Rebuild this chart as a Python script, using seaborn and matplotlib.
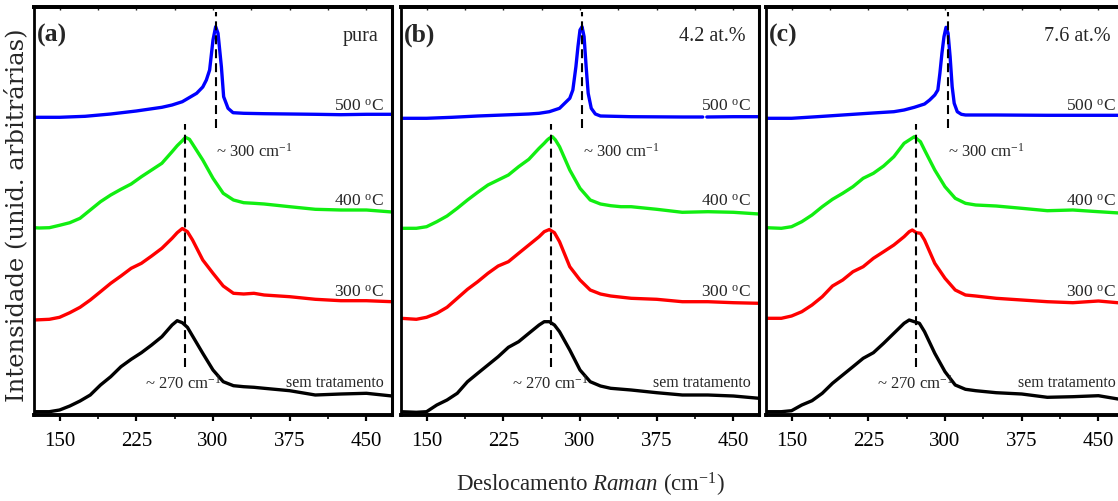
import numpy as np
import pandas as pd
import matplotlib
matplotlib.use("Agg")
import matplotlib.pyplot as plt
from matplotlib.ticker import MultipleLocator, NullLocator
import seaborn as sns

# ---------------------------------------------------------------- data
# Raman shift (cm^-1) and intensity (arbitrary units, curves already offset)
paineis = ["(a)", "(b)", "(c)"]
dopagem = ["pura", "4.2 at.%", "7.6 at.%"]
tratamentos = ["sem tratamento", "300", "400", "500"]

# panel (a) - pure sample
xa_500 = [125, 150, 175, 200, 225, 250, 260, 270, 274, 284, 290, 293.5, 296.7, 300,
          302.6, 304.9, 308.2, 310.4, 314.7, 319.6, 330, 350, 375, 400, 425, 450, 475]
ia_500 = [296.7, 296.7, 297.7, 300, 303, 306.7, 309, 312.3, 314.7, 320.7, 327, 334, 344, 374,
          387.3, 380.7, 347.3, 317.3, 305.7, 301.3, 300.7, 300.3, 300, 299.7, 299.3, 299.7, 299.7]
xa_400 = [125, 130, 140, 150, 160, 170, 180, 190, 200, 210, 220, 230, 240, 250, 260, 265,
          270, 273, 277, 280, 290, 300, 310, 320, 330, 340, 350, 375, 400, 425, 450, 475]
ia_400 = [186.3, 186, 186.3, 188.7, 191.3, 195.7, 204, 212.3, 219, 224.7, 230, 237.3, 244,
          250.7, 262.3, 268.3, 273.3, 276.7, 274.7, 270, 254, 235.7, 220.7, 214, 211.3, 210.7,
          210, 207.3, 204.7, 204, 204, 202]
xa_300 = [125, 140, 150, 160, 170, 180, 190, 200, 210, 220, 230, 240, 250, 260, 265, 270,
          275, 280, 290, 300, 310, 320, 330, 340, 350, 375, 400, 425, 450, 475]
ia_300 = [94, 94.7, 96.7, 101.3, 106.7, 114, 122.3, 130.7, 138, 145.7, 150.7, 158, 165.7,
          175.7, 181.3, 185.5, 182.3, 174, 154, 140.7, 128, 120.7, 120, 120.7, 119, 117.3,
          114.7, 113.3, 113.3, 112.3]
xa_st = xa_300
ia_st = [2.3, 2.3, 4, 8, 13, 19, 29, 37.3, 47.3, 54.7, 61.3, 69, 77.3, 89, 93.3, 91.3, 86.7,
         78, 60.7, 44, 32.3, 28.3, 27.3, 26.7, 25.7, 23.3, 19, 20, 20.7, 18]

# panel (b) - 4.2 at.%  (the 500 C spectrum has a missing point near 422 cm^-1)
xb_500 = [125, 150, 175, 200, 225, 250, 260, 270, 280, 290, 293, 296, 298, 300, 302, 304,
          306, 308, 311, 315, 320, 350, 400, 420, 422, 424, 450, 475]
ib_500 = [295.7, 295.7, 296.7, 298, 299, 300, 300.7, 302.3, 305.7, 315.7, 324, 347.3, 367.3,
          384, 387.3, 377.3, 347.3, 320.7, 305.7, 300, 298, 297.3, 297, 297, np.nan, 297,
          297.3, 297.3]
xb_400 = [125, 140, 150, 160, 170, 180, 190, 200, 210, 220, 230, 240, 250, 260, 265, 268,
          270, 273, 276, 280, 290, 300, 310, 320, 330, 340, 350, 375, 400, 425, 450, 475]
ib_400 = [185.7, 185.7, 187.3, 192.3, 198, 205.7, 214, 221.7, 229, 234, 239, 247.3, 254.7,
          265.7, 270.7, 274, 275.7, 277.3, 274, 267.3, 244, 225.7, 214, 210, 208.3, 207.3,
          207.3, 204.7, 201.7, 202.3, 201.7, 200]
xb_300 = [125, 140, 150, 160, 170, 180, 190, 200, 210, 220, 230, 240, 250, 260, 265, 270,
          275, 280, 290, 300, 310, 320, 330, 350, 375, 400, 425, 450, 475]
ib_300 = [95.7, 94.7, 96.7, 100.7, 106.7, 115.7, 124.7, 132.3, 140.7, 148, 152.3, 160.7, 169,
          177.3, 182.3, 184.5, 181.3, 172.3, 147.3, 134, 124, 120, 118, 115.7, 114.7, 112.3,
          112.3, 111.3, 110.7]
xb_st = xb_300
ib_st = [2.3, 1.7, 2.3, 9, 14, 20.7, 32.3, 40.7, 49, 57.3, 66.7, 72.3, 80.7, 89, 92.3, 92.3,
         89, 82.3, 64, 44, 32.3, 28, 25.7, 24, 21.3, 19, 19, 18, 15.7]

# panel (c) - 7.6 at.%
xc_500 = [125, 150, 175, 200, 225, 250, 260, 270, 280, 285, 290, 293, 295, 297, 299, 301,
          303, 305, 307, 309, 312, 316, 320, 350, 400, 450, 475]
ic_500 = [295.7, 295.7, 297.3, 299, 300.7, 302.3, 304, 306.7, 310, 314, 319, 324, 340.7,
          360.7, 377.3, 386.7, 380.7, 357.3, 327.3, 310.7, 302.3, 299.7, 299, 299, 298.7,
          298.7, 298.7]
xc_400 = [125, 140, 150, 160, 170, 180, 190, 200, 210, 220, 230, 240, 250, 260, 265, 270,
          273, 276, 280, 290, 300, 310, 320, 330, 350, 375, 400, 425, 450, 475]
ic_400 = [186.3, 185.7, 187.3, 192.3, 199, 207.3, 214.7, 220.7, 227.3, 235.7, 240.7, 248,
          257.3, 270.7, 274, 277.3, 274.7, 272.3, 264, 244, 227.3, 215.7, 210.7, 209, 208,
          205.7, 203.3, 204, 202.3, 200.7]
xc_300 = [125, 140, 150, 160, 170, 180, 190, 200, 210, 220, 230, 240, 250, 260, 265, 268,
          272, 276, 280, 290, 300, 310, 320, 330, 350, 375, 400, 425, 450, 475]
ic_300 = [95.7, 95.7, 98, 102.3, 109, 117.3, 128, 134, 142.3, 147.3, 155.7, 162.3, 169,
          177.3, 182.3, 184, 181.3, 180.7, 174, 150.7, 135.7, 124, 119, 118, 115.7, 114,
          112.3, 111.3, 113, 110.7]
xc_st = [125, 140, 150, 160, 170, 180, 190, 200, 210, 220, 230, 240, 250, 260, 265, 270,
         275, 280, 290, 300, 310, 320, 330, 350, 375, 400, 425, 450, 475]
ic_st = [2.3, 2.3, 3.3, 9, 13.3, 20.7, 30.7, 39, 47.3, 55.7, 61.3, 70.7, 80.7, 90.7, 94,
         92.3, 90.7, 82.3, 60.7, 42.3, 29, 24.7, 23.3, 21.3, 20, 16.7, 17.3, 18.3, 14]

# band positions marked by dashed guides, and their vertical extents
banda_300 = [302.6, 302.0, 302.6]
banda_270 = [272.6, 271.6, 271.3]
guia_300 = (286, 402)
guia_270 = (47, 290)

# curve labels and their baselines (intensity units)
rotulos = {"500": "500 $^{\\rm o}$C", "400": "400 $^{\\rm o}$C",
           "300": "300 $^{\\rm o}$C", "sem tratamento": "sem tratamento"}
base_rotulo = {"500": 303, "400": 208, "300": 117, "sem tratamento": 27}

espectros = {
    0: {"500": (xa_500, ia_500), "400": (xa_400, ia_400), "300": (xa_300, ia_300),
        "sem tratamento": (xa_st, ia_st)},
    1: {"500": (xb_500, ib_500), "400": (xb_400, ib_400), "300": (xb_300, ib_300),
        "sem tratamento": (xb_st, ib_st)},
    2: {"500": (xc_500, ic_500), "400": (xc_400, ic_400), "300": (xc_300, ic_300),
        "sem tratamento": (xc_st, ic_st)},
}

linhas = []
for p, curvas in espectros.items():
    for trat, (xs, ys) in curvas.items():
        ys = np.asarray(ys, float)
        seg = np.cumsum(np.isnan(ys))
        for xv, yv, s in zip(xs, ys, seg):
            if not np.isnan(yv):
                linhas.append((p, trat, int(s), xv, yv))
df = pd.DataFrame(linhas, columns=["painel", "tratamento", "seg", "raman", "intensidade"])

cores = {"sem tratamento": "#000000", "300": "#ff0000", "400": "#11ee11", "500": "#0000ff"}

# ---------------------------------------------------------------- style
sns.set_style("ticks")
plt.rcParams["font.family"] = ["Liberation Serif", "DejaVu Serif"]
plt.rcParams["mathtext.fontset"] = "custom"
plt.rcParams["mathtext.rm"] = "Liberation Serif"
plt.rcParams["mathtext.it"] = "Liberation Serif:italic"
plt.rcParams["mathtext.bf"] = "Liberation Serif:bold"

W, H = 1118, 501
fig = plt.figure(figsize=(W / 100, H / 100), dpi=100)

esquerdas = [34, 401, 766]
largura, topo, fundo = 358, 7, 415

for p in range(3):
    ax = fig.add_axes([esquerdas[p] / W, 1 - fundo / H, largura / W, (fundo - topo) / H])
    sub = df[df["painel"] == p]
    sns.lineplot(data=sub, x="raman", y="intensidade", hue="tratamento",
                 hue_order=tratamentos, palette=cores, units="seg", estimator=None,
                 sort=False, linewidth=2.4, legend=False, ax=ax)

    ax.vlines(banda_300[p], *guia_300, colors="black", linestyles=(0, (4.3, 2.4)),
              linewidth=1.5, zorder=5)
    ax.vlines(banda_270[p], *guia_270, colors="black", linestyles=(0, (4.3, 2.4)),
              linewidth=1.5, zorder=5)

    ax.set_xlim(125, 475)
    ax.set_ylim(-1, 407)
    ax.set_xlabel("")
    ax.set_ylabel("")
    ax.xaxis.set_major_locator(MultipleLocator(75))
    ax.xaxis.set_minor_locator(MultipleLocator(37.5))
    ax.set_xticks([150, 225, 300, 375, 450])
    ax.yaxis.set_major_locator(NullLocator())
    ax.tick_params(axis="x", which="major", direction="out", length=4.5, width=1.6,
                   pad=8, labelsize=15, colors="black")
    ax.tick_params(axis="x", which="minor", direction="out", length=2.8, width=1.4)

    topo_ax = ax.secondary_xaxis("top")
    topo_ax.xaxis.set_major_locator(MultipleLocator(75))
    topo_ax.xaxis.set_minor_locator(MultipleLocator(37.5))
    topo_ax.tick_params(axis="x", which="both", direction="in", length=2.5, width=1.0,
                        labeltop=False)
    topo_ax.spines["top"].set_linewidth(2.8)

    for lado, lw in (("left", 2.0), ("right", 2.2), ("bottom", 2.8), ("top", 2.8)):
        ax.spines[lado].set_visible(True)
        ax.spines[lado].set_linewidth(lw)
        ax.spines[lado].set_color("black")

    ax.text(0.008, 372, paineis[p], transform=ax.get_yaxis_transform(),
            fontsize=18.5, fontweight="bold", va="baseline", ha="left")
    ax.text(462, 373, dopagem[p], fontsize=14.5, ha="right", va="baseline")

    for trat in tratamentos:
        ax.text(467, base_rotulo[trat], rotulos[trat],
                fontsize=12.5 if trat != "sem tratamento" else 11.5,
                ha="right", va="baseline")

    ax.text(303, 257, "~ 300 cm$^{-1}$", fontsize=12, ha="left", va="baseline")
    ax.text(234, 25, "~ 270 cm$^{-1}$", fontsize=12, ha="left", va="baseline")

fig.text(590.5 / W, 1 - 485 / H, "Deslocamento $\\it{Raman}$ (cm$^{-1}$)",
         fontsize=16.5, ha="center", va="center")
fig.text(16 / W, 1 - 215 / H, "Intensidade (unid. arbitrárias)",
         family="DejaVu Serif", fontsize=17.5, rotation=90, ha="center", va="center")

fig.savefig("out.png", dpi=100)
